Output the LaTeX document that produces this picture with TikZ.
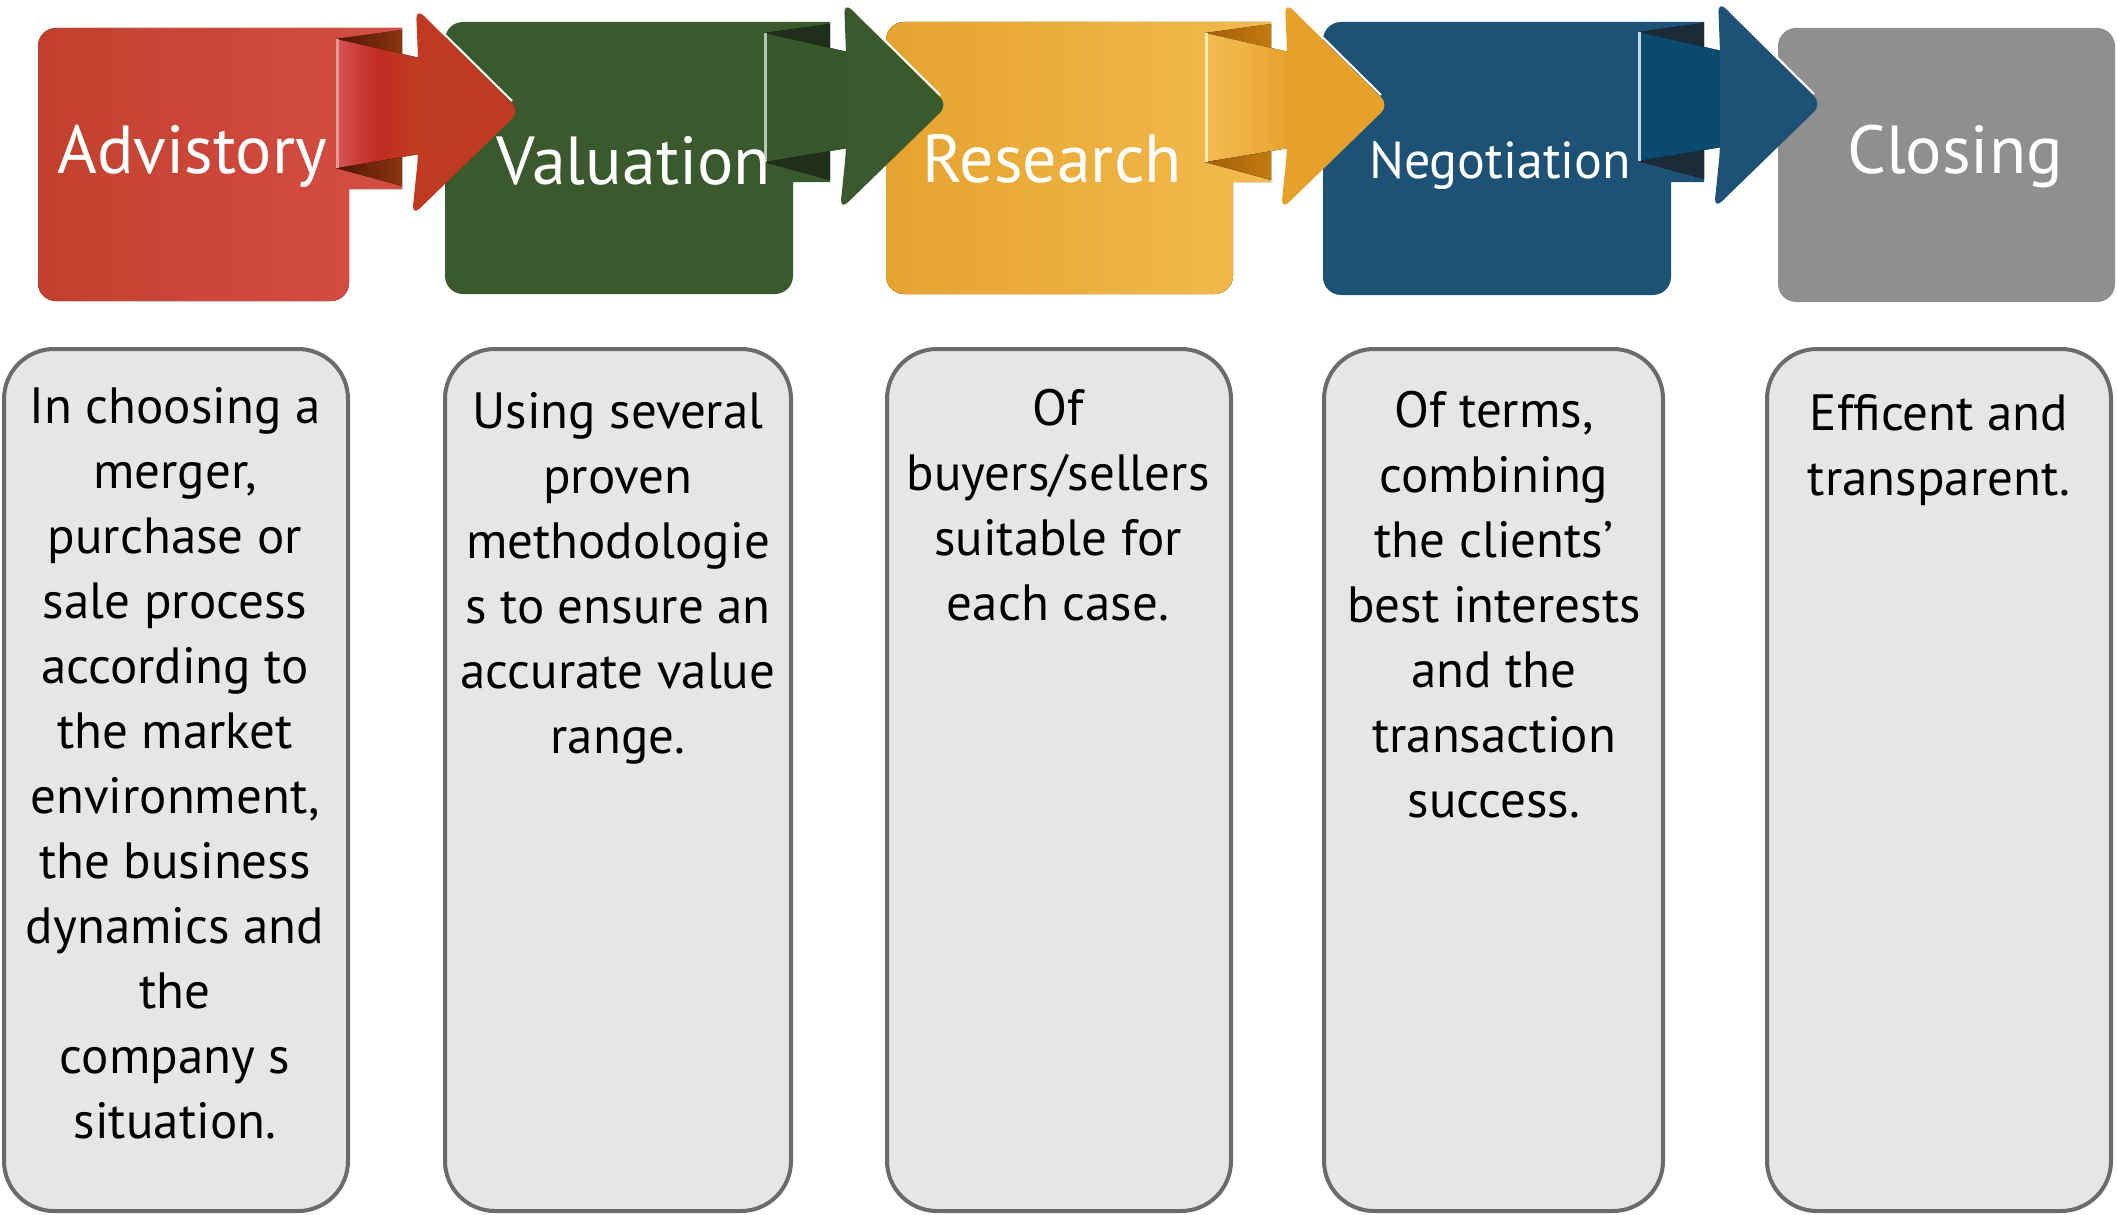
\documentclass[tikz,border=0pt]{standalone}
\usepackage{fontspec}
\setmainfont{PT Sans}
\definecolor{redL}{HTML}{C3402D}
\definecolor{redR}{HTML}{D54E44}
\definecolor{redHead}{HTML}{BF3A20}
\definecolor{redRibL}{HTML}{D65555}
\definecolor{redRibM}{HTML}{C12A22}
\definecolor{redRibR}{HTML}{C0401F}
\definecolor{redFoldL}{HTML}{4E1604}
\definecolor{redFoldR}{HTML}{8C3410}
\definecolor{grn}{HTML}{3A5A2E}
\definecolor{grnRib}{HTML}{36582B}
\definecolor{grnFold}{HTML}{1F2F1B}
\definecolor{grnHl}{HTML}{B5C4B0}
\definecolor{yelL}{HTML}{E6A32F}
\definecolor{yelR}{HTML}{F2BB4D}
\definecolor{yelHead}{HTML}{E6A12B}
\definecolor{yelRibL}{HTML}{F2BC52}
\definecolor{yelRibM}{HTML}{EFB042}
\definecolor{yelRibR}{HTML}{E6A12C}
\definecolor{yelFoldL}{HTML}{A35E08}
\definecolor{yelFoldR}{HTML}{C27A10}
\definecolor{yelHl}{HTML}{FFEFB0}
\definecolor{blu}{HTML}{1D5276}
\definecolor{bluRib}{HTML}{0B4A6F}
\definecolor{bluFold}{HTML}{1B2B38}
\definecolor{bluHl}{HTML}{C5D8E5}
\definecolor{gry}{HTML}{8F8F8F}
\definecolor{panel}{HTML}{E6E6E6}
\definecolor{panelEdge}{HTML}{6B6B6B}
% box with a tab on its upper right: L T R B tabRight tabBottom options
\newcommand\tabbox[7]{\fill[#7] (#1,{#2+18}) arc[start angle=180,end angle=270,radius=18] -- (#5,#2) -- (#5,#6) -- (#3,#6) -- (#3,{#4-18}) arc[start angle=0,end angle=90,radius=18] -- ({#1+18},#4) arc[start angle=90,end angle=180,radius=18] -- cycle;}
% folded ribbon arrow: x0 y0 ribL ribM ribR foldL foldR head highlight
\newcommand\ribarrow[9]{%
 \fill[left color=#6, right color=#7] (#1,{#2+11}) -- ({#1+66},{#2+2}) -- ({#1+66},{#2+27}) -- cycle;
 \fill[left color=#6, right color=#7] (#1,{#2+140}) -- ({#1+66},{#2+129}) -- ({#1+66},{#2+158}) -- cycle;
 \fill[left color=#3, right color=#5, middle color=#4] (#1,{#2+11}) -- ({#1+84},{#2+30}) -- ({#1+84},{#2+126}) -- (#1,{#2+140}) -- cycle;
 \draw[#9, line width=2.5] ({#1+1.25},{#2+11}) -- ({#1+1.25},{#2+140});
 \fill[#8, rounded corners=11] ({#1+80},{#2-20}) -- ({#1+184},{#2+83}) -- ({#1+76},{#2+188}) -- ({#1+82},{#2+130}) -- ({#1+82},{#2+30}) -- cycle;
 \draw[white, line width=2] ({#1+93},{#2-9}) -- ({#1+176},{#2+73});
}
\tikzset{
  toplabel/.style={anchor=base, text=white, inner sep=0pt, font=\fontsize{68}{80}\selectfont},
  panelbox/.style={fill=panel, draw=panelEdge, line width=4, rounded corners=50},
  bodytext/.style={anchor=base, align=center, inner sep=0pt, text=black, font=\fontsize{51}{65}\selectfont}
}
\begin{document}
\begin{tikzpicture}[x=1pt, y=-1pt]
\useasboundingbox (0,0) rectangle (2117,1215);
% top step boxes
\tabbox{38}{28}{349}{301}{402}{189}{left color=redL, right color=redR}
\tabbox{445}{22}{793}{294}{830}{182}{grn}
\tabbox{886}{22}{1233}{294}{1271}{182}{left color=yelL, right color=yelR}
\tabbox{1323}{22}{1671}{295}{1704}{182}{blu}
\fill[gry, rounded corners=18] (1778,28) rectangle (2115,302);
% arrows
\ribarrow{336}{28}{redRibL}{redRibM}{redRibR}{redFoldL}{redFoldR}{redHead}{redRibL!60!white}
\ribarrow{764}{22}{grnRib}{grnRib}{grnRib}{grnFold}{grnFold}{grn}{grnHl}
\ribarrow{1205}{22}{yelRibL}{yelRibM}{yelRibR}{yelFoldL}{yelFoldR}{yelHead}{yelHl}
\ribarrow{1638}{21}{bluRib}{bluRib}{bluRib}{bluFold}{bluFold}{blu}{bluHl}
% top labels
\node[toplabel] (l1) at (192,173) {Advistory};
\node[toplabel] (l2) at (634,184) {Valuation};
\node[toplabel] (l3) at (1052,182) {Research};
\node[toplabel, font=\fontsize{52}{60}\selectfont] (l4) at (1500,178) {Negotiation};
\node[toplabel] (l5) at (1955,173) {Closing};
% description panels
\draw[panelbox] (4,349) rectangle (348,1211);
\draw[panelbox] (445,349) rectangle (791,1211);
\draw[panelbox] (887,349) rectangle (1231,1211);
\draw[panelbox] (1324,349) rectangle (1663,1211);
\draw[panelbox] (1767,349) rectangle (2111,1211);
% node anchor is the baseline of the last line
\node[bodytext] (t1) at (175,1138) {In choosing a\\merger,\\purchase or\\sale process\\according to\\the market\\environment,\\the business\\dynamics and\\the\\company s\\situation.};
\node[bodytext] (t2) at (618,753) {Using several\\proven\\methodologie\\s to ensure an\\accurate value\\range.};
\node[bodytext] (t3) at (1058,620) {Of\\buyers/sellers\\suitable for\\each case.};
\node[bodytext] (t4) at (1494,817) {Of terms,\\combining\\the clients’\\best interests\\and the\\transaction\\success.};
\node[bodytext] (t5) at (1939,495) {Efficent and\\transparent.};
\end{tikzpicture}
\end{document}
